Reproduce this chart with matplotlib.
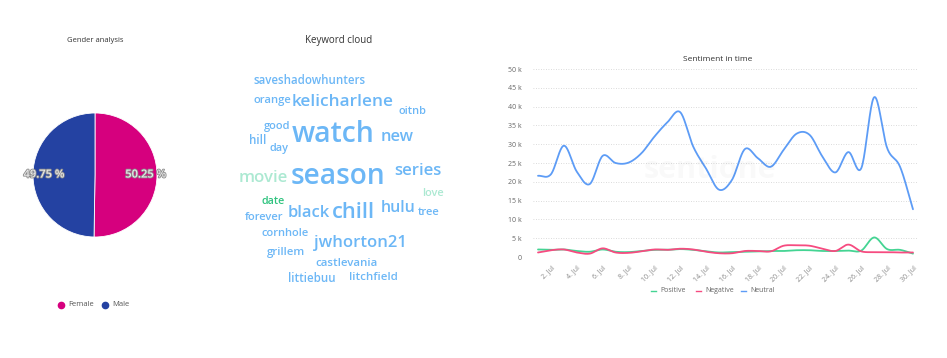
import numpy as np
import matplotlib
matplotlib.use("Agg")
import matplotlib.pyplot as plt
import matplotlib.patheffects as pe
from matplotlib.lines import Line2D

# ---------------- data ----------------
gender_labels = ["Female", "Male"]
gender_values = [50.25, 49.75]

keywords = ["saveshadowhunters", "orange", "kelicharlene", "oitnb", "good", "watch", "new",
            "hill", "day", "season", "series", "movie", "love", "date", "black", "chill",
            "hulu", "tree", "forever", "cornhole", "jwhorton21", "grillem", "castlevania",
            "littiebuu", "litchfield"]
keyword_sentiment = ["neutral", "neutral", "neutral", "neutral", "neutral", "neutral", "neutral",
                     "neutral", "neutral", "neutral", "neutral", "positive_light", "positive_light",
                     "positive", "neutral", "neutral", "neutral", "neutral", "neutral", "neutral",
                     "neutral", "neutral", "neutral", "neutral", "neutral"]

days = list(range(1, 31))
neutral = [21.6, 22.0, 29.6, 22.7, 19.4, 26.9, 25.0, 25.1, 27.6, 32.0, 35.8, 38.5, 29.4, 23.5,
           17.9, 20.5, 28.7, 26.3, 24.0, 28.5, 32.8, 32.5, 26.7, 22.5, 27.9, 23.6, 42.5, 29.0,
           24.0, 12.7]
positive = [2.0, 1.9, 2.0, 1.6, 1.4, 2.0, 1.4, 1.3, 1.6, 1.9, 1.9, 2.1, 1.9, 1.5, 1.2, 1.3,
            1.4, 1.5, 1.6, 1.6, 1.8, 1.8, 1.6, 1.6, 1.7, 1.7, 5.2, 2.1, 1.9, 0.9]
negative = [1.2, 1.8, 2.0, 1.2, 0.9, 2.3, 1.2, 1.1, 1.5, 2.0, 1.9, 2.2, 2.0, 1.4, 1.0, 1.0,
            1.6, 1.6, 1.5, 3.0, 3.1, 3.0, 2.2, 1.6, 3.3, 1.5, 1.3, 1.3, 1.2, 1.2]
tick_days = list(range(2, 31, 2))
y_ticks = [0, 5, 10, 15, 20, 25, 30, 35, 40, 45, 50]

# ---------------- layout ----------------
W, H = 947, 358
fig = plt.figure(figsize=(W / 100, H / 100), dpi=100)
FONT = ["Open Sans", "DejaVu Sans"]
plt.rcParams["font.family"] = FONT


def fx(px):
    return px / W


def fy(py):
    return 1 - py / H


# ---------- Pie ----------
cx, cy, r = 95, 175, 62
axp = fig.add_axes([fx(cx - r), fy(cy + r), 2 * r / W, 2 * r / H])
pie_colors = ["#d6007e", "#2442a2"]
wedges, _ = axp.pie(gender_values, colors=pie_colors, startangle=90, counterclock=False,
                    radius=1, wedgeprops=dict(edgecolor="white", linewidth=0.6))
axp.set_xlim(-1, 1)
axp.set_ylim(-1, 1)
axp.set_aspect("auto")
axp.axis("off")
stroke = [pe.withStroke(linewidth=1.2, foreground="#8a8a8a")]
axp.text(0.82, 0.0, "%.2f %%" % gender_values[0], ha="center", va="center", fontsize=8,
         color="#e8e8e8", fontweight="semibold", path_effects=stroke)
axp.text(-0.82, 0.0, "%.2f %%" % gender_values[1], ha="center", va="center", fontsize=8,
         color="#e8e8e8", fontweight="semibold", path_effects=stroke)
fig.text(fx(95), fy(40), "Gender analysis", ha="center", va="center", fontsize=5.5, color="#333333")
# legend
leg_x = [61, 105]
for lx, lab, col in zip(leg_x, gender_labels, pie_colors):
    fig.lines.append(Line2D([fx(lx)], [fy(305)], marker="o", markersize=4.5, color=col,
                            transform=fig.transFigure, linestyle="none"))
    fig.text(fx(lx + 7), fy(305), lab, ha="left", va="center", fontsize=5.5, color="#555555")

# ---------- Keyword cloud ----------
fig.text(fx(339), fy(41), "Keyword cloud", ha="center", va="center", fontsize=7, color="#333333")
word_pos = [(310, 80), (272, 100), (343, 102), (412, 112), (277, 126), (333, 135), (397, 137),
            (258, 141), (279, 148), (338, 177), (418, 171), (263, 178), (433, 193), (273, 202),
            (309, 213), (353, 212), (398, 208), (429, 212), (264, 218), (285, 234), (360, 243),
            (286, 253), (346, 263), (312, 279), (373, 278)]
word_width = [112, 38, 102, 28, 27, 83, 33, 17, 19, 95, 47, 49, 22, 23, 42, 43, 35, 22, 39,
              48, 93, 38, 62, 47, 48]
sent_colors = {"neutral": "#6cb7f6", "positive_light": "#ace9d2", "positive": "#2fc37f"}
renderer = fig.canvas.get_renderer()
for w, (px, py), tw, s in zip(keywords, word_pos, word_width, keyword_sentiment):
    t = fig.text(fx(px), fy(py), w, ha="center", va="center", fontsize=10,
                 color=sent_colors[s], fontweight="semibold")
    bw = t.get_window_extent(renderer=renderer).width
    t.set_fontsize(10 * tw / bw)

# ---------- Sentiment line chart ----------
L, R, T, B = 533, 917, 69, 257
axl = fig.add_axes([fx(L), fy(B), (R - L) / W, (B - T) / H])
day0_px, day_step = 538, 12.93
x0 = 1 + (L - day0_px) / day_step
x1 = 1 + (R - day0_px) / day_step
axl.set_xlim(x0, x1)
axl.set_ylim(0, 50)


def spline(x, y, n=20):
    x = np.asarray(x, float)
    y = np.asarray(y, float)
    m = np.zeros_like(y)
    m[1:-1] = (y[2:] - y[:-2]) / (x[2:] - x[:-2])
    m[0] = (y[1] - y[0]) / (x[1] - x[0])
    m[-1] = (y[-1] - y[-2]) / (x[-1] - x[-2])
    xs, ys = [], []
    for i in range(len(x) - 1):
        h = x[i + 1] - x[i]
        t = np.linspace(0, 1, n, endpoint=False)
        h00 = 2 * t**3 - 3 * t**2 + 1
        h10 = t**3 - 2 * t**2 + t
        h01 = -2 * t**3 + 3 * t**2
        h11 = t**3 - t**2
        xs.append(x[i] + t * h)
        ys.append(h00 * y[i] + h10 * h * m[i] + h01 * y[i + 1] + h11 * h * m[i + 1])
    xs.append([x[-1]])
    ys.append([y[-1]])
    return np.concatenate(xs), np.concatenate(ys)


c_pos, c_neg, c_neu = "#44d493", "#f64b80", "#5d9cf6"
for series, col in [(positive, c_pos), (negative, c_neg), (neutral, c_neu)]:
    sx, sy = spline(days, series)
    axl.plot(sx, sy, color=col, linewidth=1.3, solid_capstyle="round")

for v in y_ticks:
    axl.axhline(v, color="#cfcfcf", linewidth=0.6, linestyle=(0, (1, 2)), zorder=0)
for sp in axl.spines.values():
    sp.set_visible(False)
axl.set_yticks(y_ticks)
axl.set_yticklabels(["%d k" % v if v else "0" for v in y_ticks], fontsize=5, color="#666666")
axl.tick_params(axis="y", length=0, pad=8)
axl.set_xticks(tick_days)
axl.set_xticklabels(["%d. Jul" % d for d in tick_days], fontsize=5, color="#888888",
                    rotation=45, ha="right", va="top", rotation_mode="anchor")
axl.tick_params(axis="x", length=0, pad=5)
axl.text(0.48, 1.0 + 10 / (B - T), "Sentiment in time", transform=axl.transAxes,
         ha="center", va="center", fontsize=6, color="#333333")

# watermark
fig.text(fx(710), fy(170), "sentione", ha="center", va="center", fontsize=22,
         color="#000000", alpha=0.025, fontweight="bold")

# legend
for lx, lab, col in [(655, "Positive", c_pos), (700, "Negative", c_neg), (745, "Neutral", c_neu)]:
    fig.lines.append(Line2D([fx(lx - 4), fx(lx + 1)], [fy(291), fy(291)], color=col,
                            linewidth=1, transform=fig.transFigure))
    fig.text(fx(lx + 5), fy(291), lab, ha="left", va="center", fontsize=5, color="#666666")

fig.savefig("out.png", dpi=100, facecolor="white")
